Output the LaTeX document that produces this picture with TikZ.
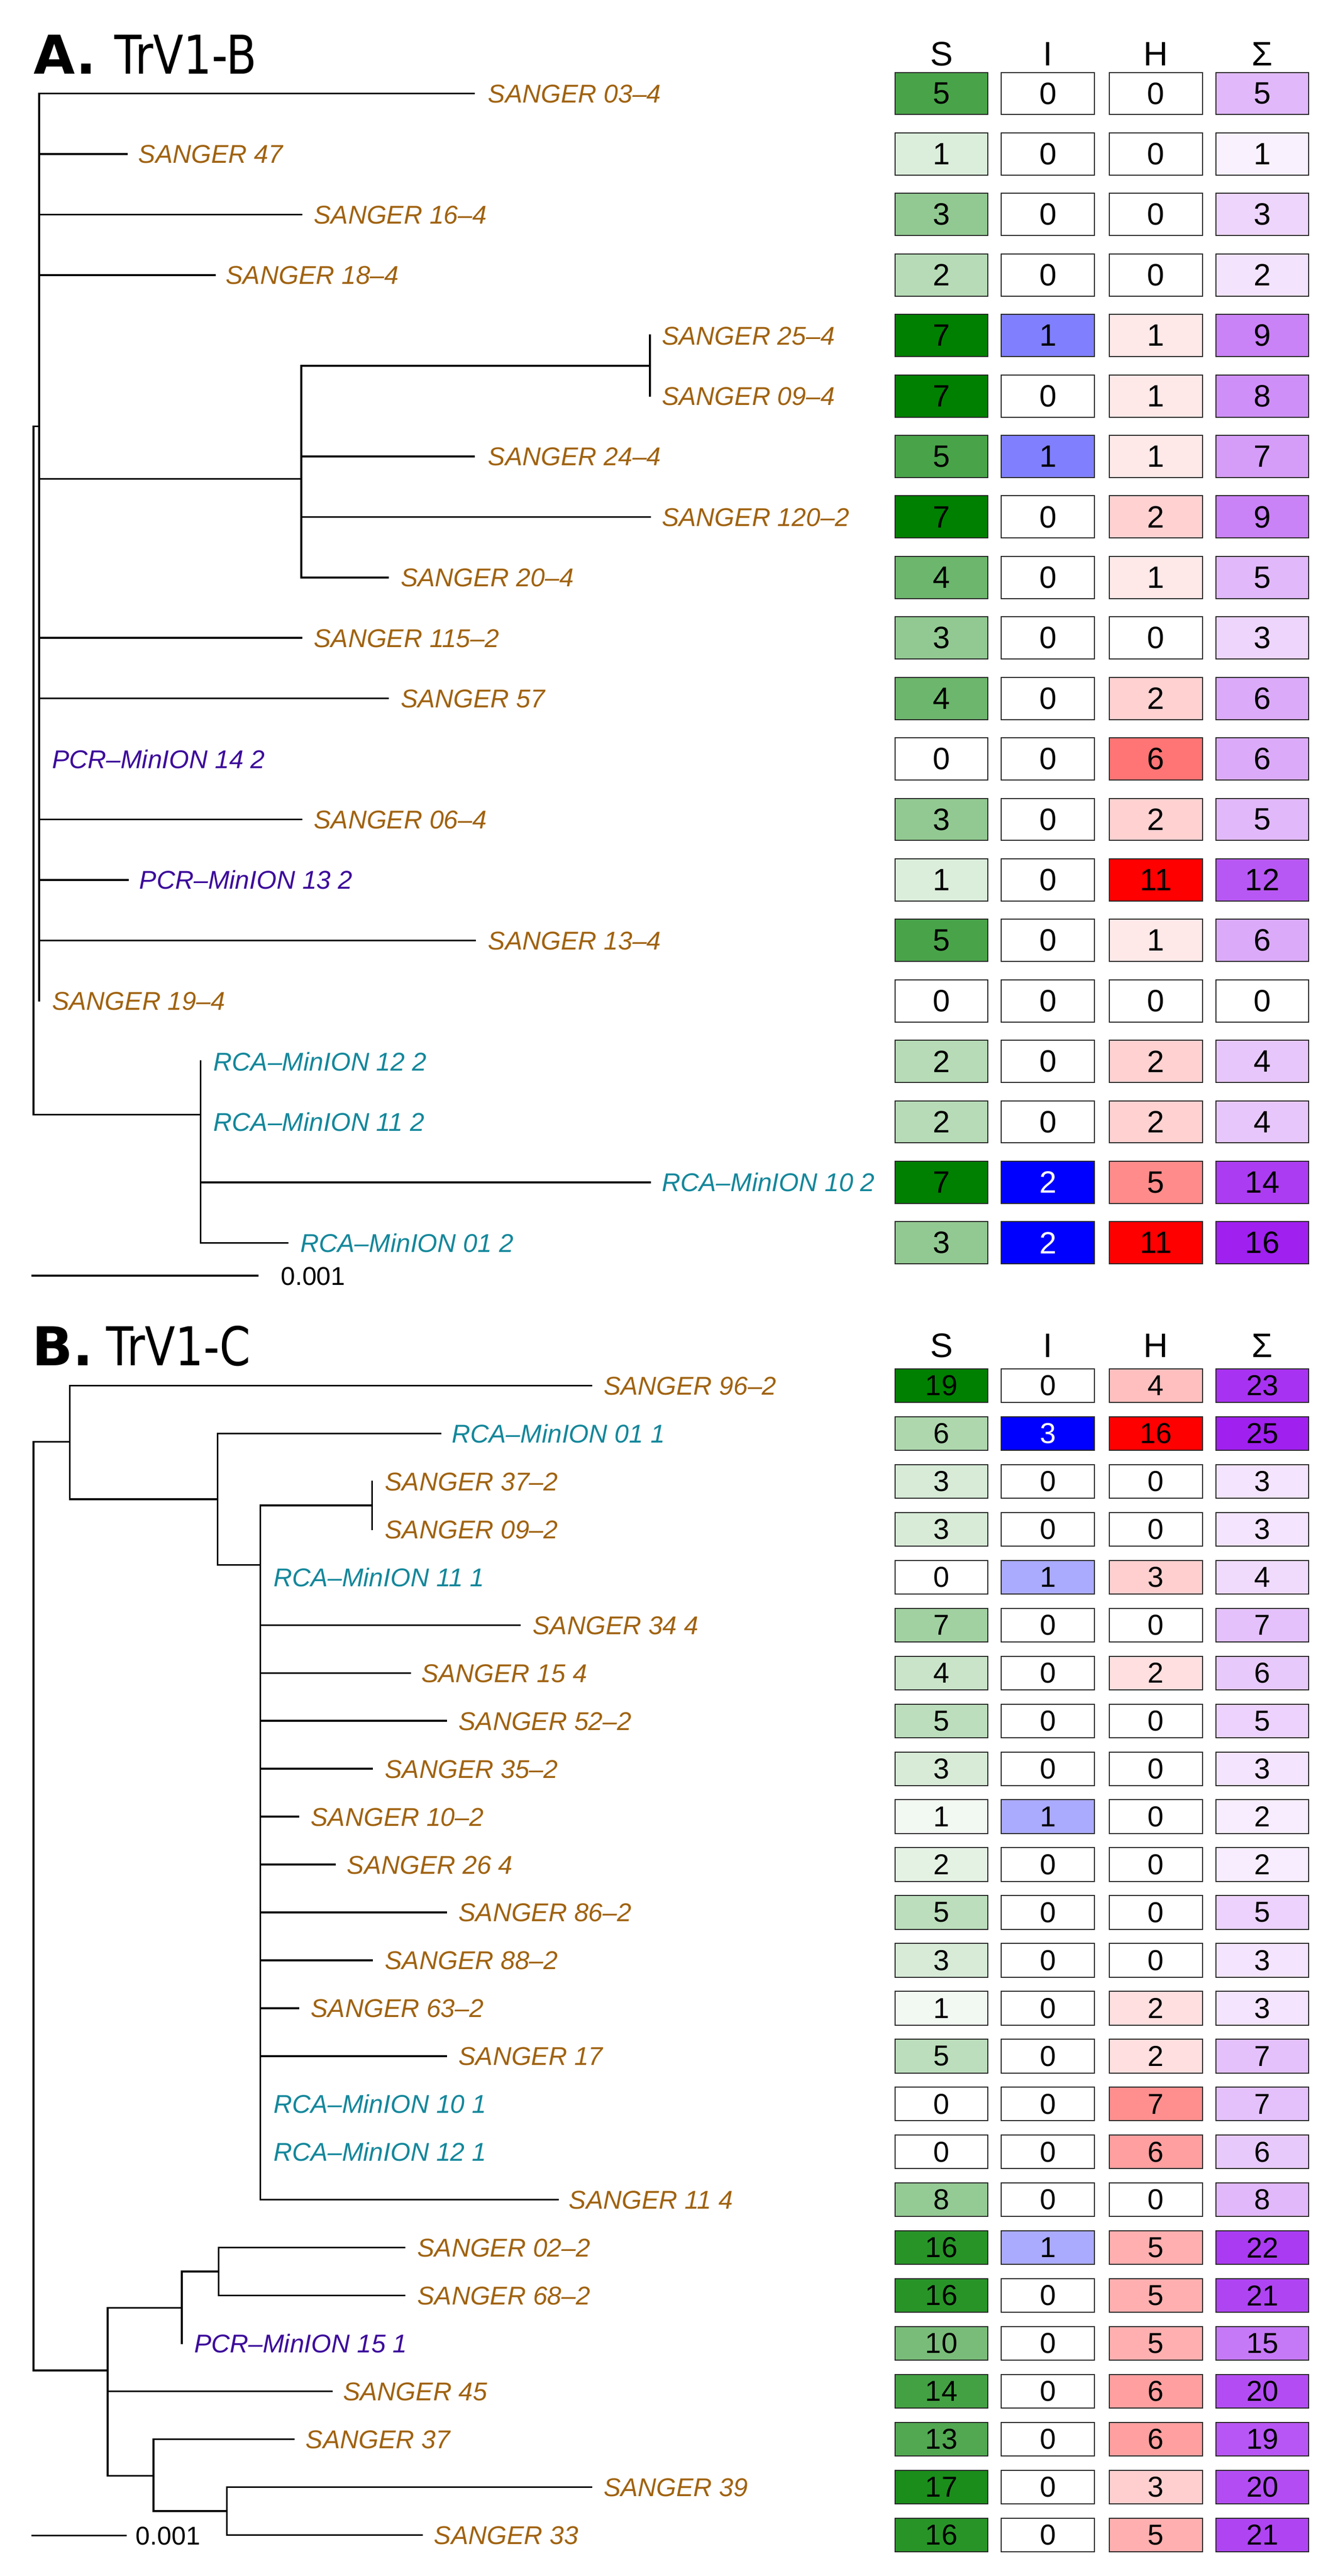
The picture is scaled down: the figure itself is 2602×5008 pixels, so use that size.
\documentclass[tikz,border=0pt]{standalone}
\usepackage{fontspec}
\usepackage{graphicx}
\setmainfont{Liberation Sans}
\newfontfamily\djv{DejaVu Sans}
\definecolor{sang}{RGB}{160,98,16}
\definecolor{pcr}{RGB}{60,10,155}
\definecolor{rca}{RGB}{20,135,155}
\definecolor{cS}{RGB}{0,128,0}
\definecolor{cI}{RGB}{0,0,255}
\definecolor{cH}{RGB}{255,0,0}
\definecolor{cT}{RGB}{160,32,240}
\def\ch{41pt}\def\cf{30}
\def\mS{7}\def\mI{2}\def\mH{11}\def\mT{16}
\newcommand\lab[5]{\node[lbl,text=#4] (#1) at (#2,#3+18) {#5};}
\newcommand\trow[6]{%
  \pgfmathsetmacro\pS{100*#3/\mS}\pgfmathsetmacro\pI{100*#4/\mI}%
  \pgfmathsetmacro\pH{100*#5/\mH}\pgfmathsetmacro\pT{100*#6/\mT}%
  \ifnum#4=\mI\relax\def\tcI{white}\else\def\tcI{black}\fi
  \node[cell,fill=cS!\pS!white] (#1s) at (1831,#2) {#3};
  \node[cell,fill=cI!\pI!white,text=\tcI] (#1i) at (2038,#2) {#4};
  \node[cell,fill=cH!\pH!white] (#1h) at (2248,#2) {#5};
  \node[cell,fill=cT!\pT!white] (#1t) at (2455,#2) {#6};
}
\begin{document}
\begin{tikzpicture}[x=0.5pt,y=-0.5pt,
  br/.style={line width=1.75pt,line cap=rect},
  lbl/.style={anchor=base west,inner sep=0pt,font=\fontsize{25}{30}\selectfont\itshape},
  cell/.style={draw=black!85,line width=1pt,minimum width=90.5pt,minimum height=\ch,inner sep=0pt,
    font=\fontsize{\cf}{\cf}\selectfont},
  hdr/.style={anchor=base,inner sep=0pt,font=\fontsize{33}{36}\selectfont},
  ttlA/.style={anchor=base west,inner sep=0pt,font=\fontsize{52}{56}\selectfont\djv\bfseries},
  ttlB/.style={anchor=base west,inner sep=0pt,font=\fontsize{52}{56}\selectfont\djv},
  sc/.style={anchor=base west,inner sep=0pt,font=\fontsize{25}{30}\selectfont}]
\useasboundingbox[fill=white] (0,0) rectangle (2602,5008);

% ================= Panel A =================
\node[ttlA] (tA) at (65,144) {A.};
\node[ttlB] (nA) at (222,144) {\scalebox{0.83}[1]{TrV1-B}};

% tree A
\draw[br] (65,829) -- (76,829);
\draw[br] (65,829) -- (65,2167);
\draw[br] (76,181.8) -- (76,1945.8);
\draw[br] (76,181.8) -- (922,181.8);
\draw[br] (76,299.4) -- (247,299.4);
\draw[br] (76,417) -- (586,417);
\draw[br] (76,534.6) -- (418,534.6);
\draw[br] (76,931) -- (586,931);
\draw[br] (586,711) -- (586,1122.6);
\draw[br] (586,711) -- (1264,711);
\draw[br] (1264,652.2) -- (1264,769.8);
\draw[br] (586,887.4) -- (922,887.4);
\draw[br] (586,1005) -- (1264,1005);
\draw[br] (586,1122.6) -- (754,1122.6);
\draw[br] (76,1240.2) -- (586,1240.2);
\draw[br] (76,1357.8) -- (754,1357.8);
\draw[br] (76,1593) -- (586,1593);
\draw[br] (76,1710.6) -- (249,1710.6);
\draw[br] (76,1828.2) -- (924,1828.2);
\draw[br] (65,2167) -- (390,2167);
\draw[br] (390,2063.4) -- (390,2416.2);
\draw[br] (390,2298.6) -- (1264,2298.6);
\draw[br] (390,2416.2) -- (559,2416.2);
\draw[br] (63,2480) -- (501,2480);
\node[sc] (scA) at (546,2498) {0.001};

\lab{a1}{949}{181.8}{sang}{SANGER 03–4}
\lab{a2}{269}{299.4}{sang}{SANGER 47}
\lab{a3}{610}{417}{sang}{SANGER 16–4}
\lab{a4}{439}{534.6}{sang}{SANGER 18–4}
\lab{a5}{1287}{652.2}{sang}{SANGER 25–4}
\lab{a6}{1287}{769.8}{sang}{SANGER 09–4}
\lab{a7}{949}{887.4}{sang}{SANGER 24–4}
\lab{a8}{1287}{1005}{sang}{SANGER 120–2}
\lab{a9}{779}{1122.6}{sang}{SANGER 20–4}
\lab{a10}{610}{1240.2}{sang}{SANGER 115–2}
\lab{a11}{779}{1357.8}{sang}{SANGER 57}
\lab{a12}{101}{1475.4}{pcr}{PCR–MinION 14 2}
\lab{a13}{610}{1593}{sang}{SANGER 06–4}
\lab{a14}{271}{1710.6}{pcr}{PCR–MinION 13 2}
\lab{a15}{949}{1828.2}{sang}{SANGER 13–4}
\lab{a16}{101}{1945.8}{sang}{SANGER 19–4}
\lab{a17}{415}{2063.4}{rca}{RCA–MinION 12 2}
\lab{a18}{415}{2181}{rca}{RCA–MinION 11 2}
\lab{a19}{1287}{2298.6}{rca}{RCA–MinION 10 2}
\lab{a20}{584}{2416.2}{rca}{RCA–MinION 01 2}

% table A
\node[hdr] (hAs) at (1831,128) {S};
\node[hdr] (hAi) at (2038,128) {I};
\node[hdr] (hAh) at (2248,128) {H};
\node[hdr] (hAt) at (2455,128) {Σ};
\trow{ra1}{181.8}{5}{0}{0}{5}
\trow{ra2}{299.4}{1}{0}{0}{1}
\trow{ra3}{417}{3}{0}{0}{3}
\trow{ra4}{534.6}{2}{0}{0}{2}
\trow{ra5}{652.2}{7}{1}{1}{9}
\trow{ra6}{769.8}{7}{0}{1}{8}
\trow{ra7}{887.4}{5}{1}{1}{7}
\trow{ra8}{1005}{7}{0}{2}{9}
\trow{ra9}{1122.6}{4}{0}{1}{5}
\trow{ra10}{1240.2}{3}{0}{0}{3}
\trow{ra11}{1357.8}{4}{0}{2}{6}
\trow{ra12}{1475.4}{0}{0}{6}{6}
\trow{ra13}{1593}{3}{0}{2}{5}
\trow{ra14}{1710.6}{1}{0}{11}{12}
\trow{ra15}{1828.2}{5}{0}{1}{6}
\trow{ra16}{1945.8}{0}{0}{0}{0}
\trow{ra17}{2063.4}{2}{0}{2}{4}
\trow{ra18}{2181}{2}{0}{2}{4}
\trow{ra19}{2298.6}{7}{2}{5}{14}
\trow{ra20}{2416.2}{3}{2}{11}{16}

% ================= Panel B =================
\node[ttlA] (tB) at (62,2655) {B.};
\node[ttlB] (nB) at (206,2655) {\scalebox{0.83}[1]{TrV1-C}};

\draw[br] (65,2803) -- (135.6,2803);
\draw[br] (65,2803) -- (65,4608.5);
\draw[br] (135.6,2693.8) -- (135.6,2914.7);
\draw[br] (135.6,2693.8) -- (1149.7,2693.8);
\draw[br] (135.6,2914.7) -- (423,2914.7);
\draw[br] (423,2786.9) -- (423,3042.5);
\draw[br] (423,2786.9) -- (856.8,2786.9);
\draw[br] (423,3042.5) -- (506.5,3042.5);
\draw[br] (506.5,2926.6) -- (506.5,4276.5);
\draw[br] (506.5,2926.6) -- (723.4,2926.6);
\draw[br] (723.4,2880) -- (723.4,2973.1);
\draw[br] (506.5,3159.3) -- (1010.8,3159.3);
\draw[br] (506.5,3252.4) -- (797.2,3252.4);
\draw[br] (506.5,3345.5) -- (867.7,3345.5);
\draw[br] (506.5,3438.6) -- (723.4,3438.6);
\draw[br] (506.5,3531.7) -- (580.3,3531.7);
\draw[br] (506.5,3624.8) -- (650.8,3624.8);
\draw[br] (506.5,3717.9) -- (867.7,3717.9);
\draw[br] (506.5,3811.0) -- (723.4,3811.0);
\draw[br] (506.5,3904.1) -- (580.3,3904.1);
\draw[br] (506.5,3997.2) -- (867.7,3997.2);
\draw[br] (506.5,4276.5) -- (1084.6,4276.5);
\draw[br] (65,4608.5) -- (209.3,4608.5);
\draw[br] (209.3,4486.5) -- (209.3,4813);
\draw[br] (209.3,4486.5) -- (353.6,4486.5);
\draw[br] (353.6,4416.2) -- (353.6,4555.8);
\draw[br] (353.6,4416.2) -- (425.2,4416.2);
\draw[br] (425.2,4369.6) -- (425.2,4462.7);
\draw[br] (425.2,4369.6) -- (786.3,4369.6);
\draw[br] (425.2,4462.7) -- (786.3,4462.7);
\draw[br] (209.3,4648.9) -- (645.3,4648.9);
\draw[br] (209.3,4813) -- (298.3,4813);
\draw[br] (298.3,4742) -- (298.3,4881.7);
\draw[br] (298.3,4742) -- (571.6,4742);
\draw[br] (298.3,4881.7) -- (441.4,4881.7);
\draw[br] (441.4,4835.1) -- (441.4,4928.2);
\draw[br] (441.4,4835.1) -- (1149.7,4835.1);
\draw[br] (441.4,4928.2) -- (821,4928.2);
\draw[br] (63,4929.4) -- (245,4929.4);
\node[sc] (scB) at (264,4947.4) {0.001};

\lab{b1}{1173.5}{2693.8}{sang}{SANGER 96–2}
\lab{b2}{878.5}{2786.9}{rca}{RCA–MinION 01 1}
\lab{b3}{748.4}{2880.0}{sang}{SANGER 37–2}
\lab{b4}{748.4}{2973.1}{sang}{SANGER 09–2}
\lab{b5}{531.5}{3066.2}{rca}{RCA–MinION 11 1}
\lab{b6}{1035.8}{3159.3}{sang}{SANGER 34 4}
\lab{b7}{818.9}{3252.4}{sang}{SANGER 15 4}
\lab{b8}{891.5}{3345.5}{sang}{SANGER 52–2}
\lab{b9}{748.4}{3438.6}{sang}{SANGER 35–2}
\lab{b10}{604.1}{3531.7}{sang}{SANGER 10–2}
\lab{b11}{674.6}{3624.8}{sang}{SANGER 26 4}
\lab{b12}{891.5}{3717.9}{sang}{SANGER 86–2}
\lab{b13}{748.4}{3811.0}{sang}{SANGER 88–2}
\lab{b14}{604.1}{3904.1}{sang}{SANGER 63–2}
\lab{b15}{891.5}{3997.2}{sang}{SANGER 17}
\lab{b16}{531.5}{4090.3}{rca}{RCA–MinION 10 1}
\lab{b17}{531.5}{4183.4}{rca}{RCA–MinION 12 1}
\lab{b18}{1106.3}{4276.5}{sang}{SANGER 11 4}
\lab{b19}{811.3}{4369.6}{sang}{SANGER 02–2}
\lab{b20}{811.3}{4462.7}{sang}{SANGER 68–2}
\lab{b21}{377.4}{4555.8}{pcr}{PCR–MinION 15 1}
\lab{b22}{667}{4648.9}{sang}{SANGER 45}
\lab{b23}{594.4}{4742.0}{sang}{SANGER 37}
\lab{b24}{1173.5}{4835.1}{sang}{SANGER 39}
\lab{b25}{843.8}{4928.2}{sang}{SANGER 33}

% table B
\def\ch{32.7pt}\def\cf{28}
\def\mS{19}\def\mI{3}\def\mH{16}\def\mT{25}
\node[hdr] (hBs) at (1831,2638.5) {S};
\node[hdr] (hBi) at (2038,2638.5) {I};
\node[hdr] (hBh) at (2248,2638.5) {H};
\node[hdr] (hBt) at (2455,2638.5) {Σ};
\trow{rb1}{2693.8}{19}{0}{4}{23}
\trow{rb2}{2786.9}{6}{3}{16}{25}
\trow{rb3}{2880.0}{3}{0}{0}{3}
\trow{rb4}{2973.1}{3}{0}{0}{3}
\trow{rb5}{3066.2}{0}{1}{3}{4}
\trow{rb6}{3159.3}{7}{0}{0}{7}
\trow{rb7}{3252.4}{4}{0}{2}{6}
\trow{rb8}{3345.5}{5}{0}{0}{5}
\trow{rb9}{3438.6}{3}{0}{0}{3}
\trow{rb10}{3531.7}{1}{1}{0}{2}
\trow{rb11}{3624.8}{2}{0}{0}{2}
\trow{rb12}{3717.9}{5}{0}{0}{5}
\trow{rb13}{3811.0}{3}{0}{0}{3}
\trow{rb14}{3904.1}{1}{0}{2}{3}
\trow{rb15}{3997.2}{5}{0}{2}{7}
\trow{rb16}{4090.3}{0}{0}{7}{7}
\trow{rb17}{4183.4}{0}{0}{6}{6}
\trow{rb18}{4276.5}{8}{0}{0}{8}
\trow{rb19}{4369.6}{16}{1}{5}{22}
\trow{rb20}{4462.7}{16}{0}{5}{21}
\trow{rb21}{4555.8}{10}{0}{5}{15}
\trow{rb22}{4648.9}{14}{0}{6}{20}
\trow{rb23}{4742.0}{13}{0}{6}{19}
\trow{rb24}{4835.1}{17}{0}{3}{20}
\trow{rb25}{4928.2}{16}{0}{5}{21}
\end{tikzpicture}
\end{document}
